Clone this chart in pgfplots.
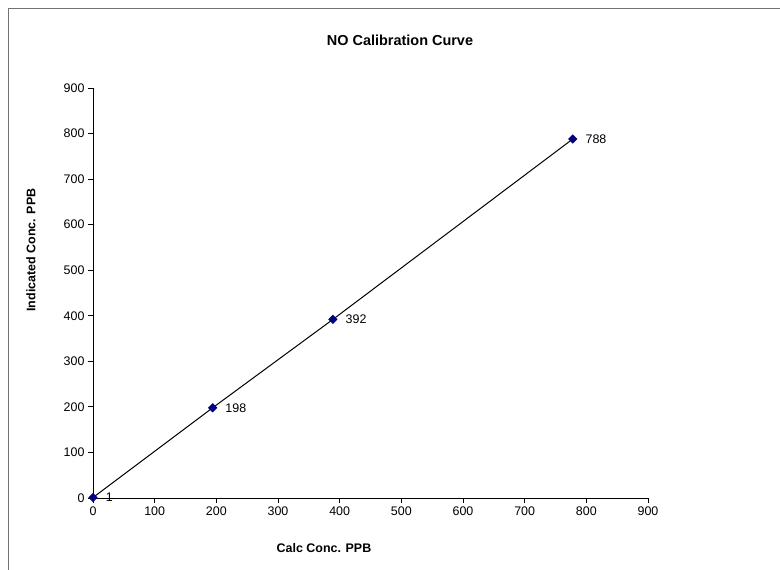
\documentclass[border=0pt]{standalone}
\usepackage{pgfplots}
\pgfplotsset{compat=1.18}
\usepackage{fontspec}
\setmainfont{Liberation Sans}
\definecolor{navy}{RGB}{0,0,128}
\begin{document}
\begin{tikzpicture}[x=1bp,y=1bp]
\path[use as bounding box] (0,0) rectangle (780,570);
\draw[black!55, line width=1.2bp] (8.5,0) -- (8.5,561.5) -- (780,561.5);
\node[font=\fontsize{14.5}{16}\selectfont\bfseries] at (400,530) {NO Calibration Curve};
\node[font=\fontsize{12.5}{14}\selectfont\bfseries] at (324,22) {Calc Conc. PPB};
\node[font=\fontsize{12.5}{14}\selectfont\bfseries, rotate=90] at (31,320) {Indicated Conc. PPB};
\begin{axis}[
  at={(93bp,72bp)}, anchor=south west,
  scale only axis, width=555bp, height=410bp,
  xmin=0, xmax=900, ymin=0, ymax=900,
  xtick distance=100, ytick distance=100,
  axis lines*=left,
  axis line style={black, line width=0.8bp},
  tick align=outside, major tick length=5bp,
  tick style={black, line width=0.8bp},
  ticklabel style={font=\fontsize{12.5}{14}\selectfont},
  /pgf/number format/assume math mode=true,
  /pgf/number format/1000 sep={},
  clip=false,
  nodes near coords={\pgfmathprintnumber{\pgfplotspointmeta}},
  point meta=y,
  nodes near coords style={anchor=west, xshift=9bp, font=\fontsize{12.5}{14}\selectfont, text=black},
]
\addplot[black, line width=1bp, mark=square*, mark size=2.8bp,
  mark options={fill=navy, draw=navy, rotate=45}] coordinates {
  (0,1) (194,198) (389,392) (778,788)
};
\end{axis}
\end{tikzpicture}
\end{document}
